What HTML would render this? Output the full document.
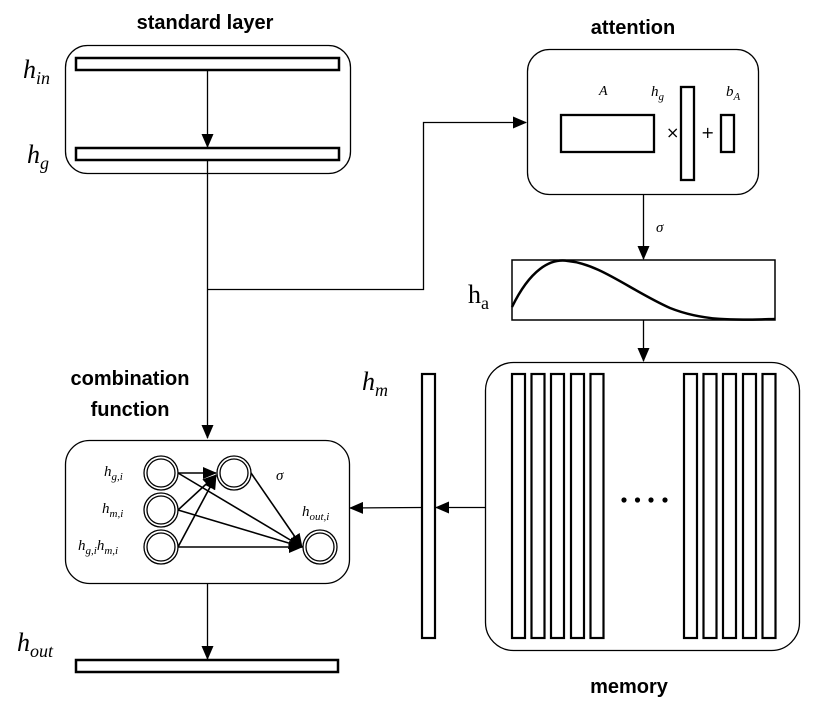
<!DOCTYPE html>
<html><head><meta charset="utf-8"><style>
html,body{margin:0;padding:0;background:#fff;}
svg{display:block;}
.b{font-family:"Liberation Sans",sans-serif;font-weight:bold;font-size:20px;}
.m{font-family:"Liberation Serif",serif;font-style:italic;}
</style></head><body>
<svg width="814" height="712" viewBox="0 0 814 712" xmlns="http://www.w3.org/2000/svg">
<defs><marker id="a" markerWidth="10" markerHeight="10" refX="9" refY="5" orient="auto" markerUnits="userSpaceOnUse"><path d="M0,0 L10,5 L0,10 z" fill="#000"/></marker>
<marker id="s" markerWidth="14" markerHeight="12" refX="13" refY="6" orient="auto" markerUnits="userSpaceOnUse"><path d="M0,0 L14,6 L0,12 z" fill="#000"/></marker></defs>
<g fill="none" stroke="#000">
<!-- standard layer -->
<rect x="65.5" y="45.5" width="285" height="128" rx="22" stroke-width="1.3"/>
<rect x="76" y="58" width="263" height="12" stroke-width="2.5"/>
<rect x="76" y="148" width="263" height="12" stroke-width="2.5"/>
<line x1="207.5" y1="70" x2="207.5" y2="147" stroke-width="1.3" marker-end="url(#s)"/>
<line x1="207.5" y1="160" x2="207.5" y2="438" stroke-width="1.3" marker-end="url(#s)"/>
<polyline points="207.5,289.5 423.5,289.5 423.5,122.5 526,122.5" stroke-width="1.3" marker-end="url(#s)"/>
<!-- attention -->
<rect x="527.5" y="49.5" width="231" height="145" rx="22" stroke-width="1.3"/>
<rect x="561" y="115" width="93" height="37" stroke-width="2.3"/>
<rect x="681" y="87" width="13" height="93" stroke-width="2.3"/>
<rect x="721" y="115" width="13" height="37" stroke-width="2.3"/>
<line x1="643.5" y1="194" x2="643.5" y2="259" stroke-width="1.3" marker-end="url(#s)"/>
<rect x="512" y="260" width="263" height="60" stroke-width="1.5"/>
<path d="M512,307 C530,270 550,258 568,261 C600,264 630,290 670,308 C705,322 740,320 775,319" stroke-width="2.5"/>
<line x1="643.5" y1="320" x2="643.5" y2="361" stroke-width="1.3" marker-end="url(#s)"/>
<!-- memory -->
<rect x="485.5" y="362.5" width="314" height="288" rx="28" stroke-width="1.3"/>
<g stroke-width="2.2">
<rect x="512" y="374" width="13" height="264"/><rect x="531.5" y="374" width="13" height="264"/><rect x="551" y="374" width="13" height="264"/><rect x="571" y="374" width="13" height="264"/><rect x="590.5" y="374" width="13" height="264"/>
<rect x="684" y="374" width="13" height="264"/><rect x="703.5" y="374" width="13" height="264"/><rect x="723" y="374" width="13" height="264"/><rect x="743" y="374" width="13" height="264"/><rect x="762.5" y="374" width="13" height="264"/>
<rect x="422" y="374" width="13" height="264"/>
</g>
<line x1="485" y1="507.5" x2="436" y2="507.5" stroke-width="1.3" marker-end="url(#s)"/>
<line x1="422" y1="507.5" x2="350" y2="508" stroke-width="1.3" marker-end="url(#s)"/>
<!-- combination -->
<rect x="65.5" y="440.5" width="284" height="143" rx="24" stroke-width="1.3"/>
<g stroke-width="1.3">
<circle cx="161" cy="473" r="17"/><circle cx="161" cy="473" r="14"/>
<circle cx="161" cy="510" r="17"/><circle cx="161" cy="510" r="14"/>
<circle cx="161" cy="547" r="17"/><circle cx="161" cy="547" r="14"/>
<circle cx="234" cy="473" r="17"/><circle cx="234" cy="473" r="14"/>
<circle cx="320" cy="547" r="17"/><circle cx="320" cy="547" r="14"/>
</g>
<g stroke-width="1.6" marker-end="url(#s)">
<line x1="178" y1="473" x2="216" y2="473"/>
<line x1="178" y1="510" x2="216" y2="475"/>
<line x1="178" y1="547" x2="216" y2="476"/>
<line x1="178" y1="473" x2="302" y2="547"/>
<line x1="178" y1="510" x2="302" y2="547"/>
<line x1="178" y1="547" x2="302" y2="547"/>
<line x1="251" y1="473" x2="302" y2="547"/>
</g>
<line x1="207.5" y1="584" x2="207.5" y2="659" stroke-width="1.3" marker-end="url(#s)"/>
<rect x="76" y="660" width="262" height="12" stroke-width="2.5"/>
</g>
<g fill="#000">
<circle cx="624" cy="500" r="2.6"/><circle cx="637.5" cy="500" r="2.6"/><circle cx="651" cy="500" r="2.6"/><circle cx="665" cy="500" r="2.6"/>
</g>
<text class="b" x="205" y="29" text-anchor="middle">standard layer</text>
<text class="b" x="633" y="34" text-anchor="middle">attention</text>
<text class="b" x="130" y="385" text-anchor="middle">combination</text>
<text class="b" x="130" y="416" text-anchor="middle">function</text>
<text class="b" x="629" y="693" text-anchor="middle">memory</text>
<g class="m">
<text x="23" y="78" font-size="26">h<tspan font-size="18" dy="6">in</tspan></text>
<text x="27" y="163" font-size="26">h<tspan font-size="18" dy="6">g</tspan></text>
<text x="468" y="303" font-size="26" font-style="normal">h<tspan font-size="18" dy="6" font-style="normal">a</tspan></text>
<text x="362" y="390" font-size="26">h<tspan font-size="18" dy="6">m</tspan></text>
<text x="17" y="651" font-size="26">h<tspan font-size="18" dy="6">out</tspan></text>
<text x="599" y="95" font-size="14">A</text>
<text x="651" y="96" font-size="15">h<tspan font-size="11" dy="4">g</tspan></text>
<text x="726" y="96" font-size="15">b<tspan font-size="11" dy="4">A</tspan></text>
<text x="666" y="138" font-size="16" font-style="normal" font-family="DejaVu Sans">×</text>
<text x="701" y="138" font-size="16" font-style="normal" font-family="DejaVu Sans">+</text>
<text x="656" y="232" font-size="15">σ</text>
<text x="276" y="480" font-size="15">σ</text>
<text x="104" y="476" font-size="15">h<tspan font-size="11" dy="4">g,i</tspan></text>
<text x="102" y="513" font-size="15">h<tspan font-size="11" dy="4">m,i</tspan></text>
<text x="78" y="550" font-size="15">h<tspan font-size="11" dy="4">g,i</tspan><tspan dy="-4">h</tspan><tspan font-size="11" dy="4">m,i</tspan></text>
<text x="302" y="516" font-size="15">h<tspan font-size="11" dy="4">out,i</tspan></text>
</g>
</svg>
</body></html>
